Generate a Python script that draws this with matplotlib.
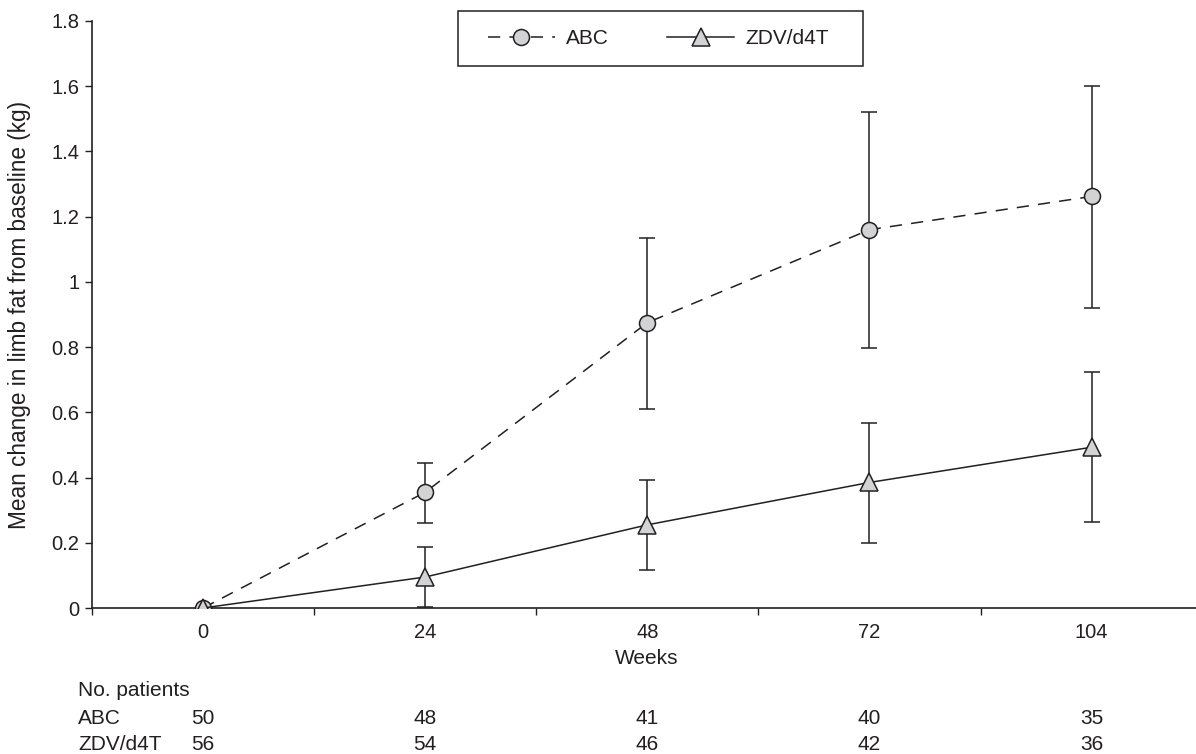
import matplotlib
matplotlib.use("Agg")
import matplotlib.pyplot as plt
import matplotlib.transforms as mtransforms
from matplotlib.patches import Rectangle
import numpy as np

plt.rcParams['font.family'] = ['Liberation Sans', 'DejaVu Sans']

weeks = ["0", "24", "48", "72", "104"]

abc_mean = [0.0, 0.355, 0.875, 1.16, 1.262]
abc_low = [0.0, 0.26, 0.61, 0.797, 0.921]
abc_high = [0.0, 0.445, 1.135, 1.52, 1.60]

zdv_mean = [0.0, 0.095, 0.255, 0.385, 0.493]
zdv_low = [0.0, 0.003, 0.117, 0.20, 0.265]
zdv_high = [0.0, 0.188, 0.393, 0.568, 0.724]

n_abc = [50, 48, 41, 40, 35]
n_zdv = [56, 54, 46, 42, 36]

ink = "#231f20"
fill = "#d1d3d4"
W, H = 1196, 754

fig = plt.figure(figsize=(11.96, 7.54), dpi=100)
ax = fig.add_axes([92 / W, 1 - 608 / H, 1104 / W, 587 / H])

x = np.arange(len(weeks))
abc_err = [np.array(abc_mean) - np.array(abc_low), np.array(abc_high) - np.array(abc_mean)]
zdv_err = [np.array(zdv_mean) - np.array(zdv_low), np.array(zdv_high) - np.array(zdv_mean)]

# error bars first, skip week 0
ax.errorbar(x[1:], abc_mean[1:], yerr=[e[1:] for e in abc_err], fmt="none",
            ecolor=ink, elinewidth=1.1, capsize=6, capthick=1.1, zorder=2)
ax.errorbar(x[1:], zdv_mean[1:], yerr=[e[1:] for e in zdv_err], fmt="none",
            ecolor=ink, elinewidth=1.1, capsize=6, capthick=1.1, zorder=2)

ax.plot(x, abc_mean, color=ink, lw=1.1, dashes=(8, 6), marker="o", ms=11.5,
        mfc=fill, mec=ink, mew=1.1, label="ABC", zorder=3)
ax.plot(x, zdv_mean, color=ink, lw=1.1, ls="-", marker="^", ms=12.5,
        mfc=fill, mec=ink, mew=1.1, label="ZDV/d4T", zorder=4)

ax.set_xlim(-0.5, 4.47)
ax.set_ylim(0, 1.8)
ax.set_yticks(np.arange(0, 1.81, 0.2))
ax.set_yticklabels(["0", "0.2", "0.4", "0.6", "0.8", "1", "1.2", "1.4", "1.6", "1.8"])
ax.set_xticks(x)
ax.set_xticklabels(weeks)
ax.set_xticks(np.append(-0.5, x[:-1] + 0.5), minor=True)
ax.tick_params(axis="x", which="major", length=0, pad=11, labelsize=14.5, labelcolor=ink)
ax.tick_params(axis="x", which="minor", length=5, width=1, color=ink, direction="out")
ax.tick_params(axis="y", length=5, width=1, color=ink, direction="out", pad=4,
               labelsize=14.5, labelcolor=ink)

for s in ["top", "right"]:
    ax.spines[s].set_visible(False)
for s in ["left", "bottom"]:
    ax.spines[s].set_color(ink)
    ax.spines[s].set_linewidth(1.2)

ax.set_xlabel("Weeks", fontsize=15, color=ink)
ax.xaxis.set_label_coords((647 - 92) / 1104, -(658 - 608) / 587)
ax.xaxis.label.set_va("center")
ax.set_ylabel("Mean change in limb fat from baseline (kg)", fontsize=16.3, color=ink)
ax.yaxis.set_label_coords((31 - 92) / 1104, 0.5)

leg = ax.legend(loc="center left", bbox_to_anchor=(488 / W, 1 - 38.5 / H),
                bbox_transform=fig.transFigure, ncol=2, frameon=False,
                fontsize=15, handlelength=3.2, columnspacing=2.8, borderpad=0,
                handletextpad=0.55, borderaxespad=0)
for t in leg.get_texts():
    t.set_color(ink)
fig.patches.append(Rectangle((458 / W, 1 - 66 / H), 405 / W, 55 / H, transform=fig.transFigure,
                             fill=False, edgecolor=ink, linewidth=1.1))

# patient numbers table
trans = mtransforms.blended_transform_factory(ax.transData, fig.transFigure)
fig.text(78 / W, 1 - 690 / H, "No. patients", fontsize=15, color=ink, va="center")
fig.text(78 / W, 1 - 718 / H, "ABC", fontsize=15, color=ink, va="center")
fig.text(78 / W, 1 - 745 / H, "ZDV/d4T", fontsize=15, color=ink, va="center")
for xi, a, z in zip(x, n_abc, n_zdv):
    ax.text(xi, 1 - 718 / H, str(a), transform=trans, ha="center", va="center",
            fontsize=15, color=ink, clip_on=False)
    ax.text(xi, 1 - 745 / H, str(z), transform=trans, ha="center", va="center",
            fontsize=15, color=ink, clip_on=False)

fig.savefig("out.png", dpi=100)
